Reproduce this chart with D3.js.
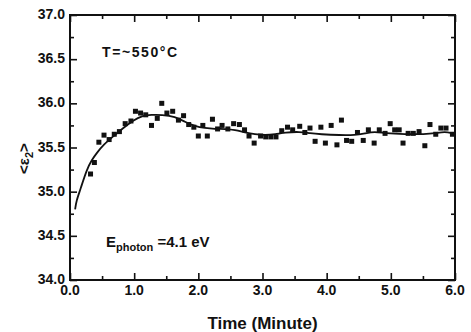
<!DOCTYPE html>
<html>
<head>
<meta charset="utf-8">
<script src="https://cdn.jsdelivr.net/npm/d3@7"></script>
<style>
  body { margin: 0; background: #fff; }
  text { font-family: "Liberation Sans", Arial, sans-serif; font-weight: bold; fill: #111; }
</style>
</head>
<body>
<div id="chart"></div>
<script>
/* <e2> vs time at ~550 C, measured points plus fitted curve */

// measured points: time (minute) and <e2>
const pointTime = [0.32, 0.38, 0.45, 0.53, 0.61, 0.69, 0.77, 0.86, 0.95, 1.02,
    1.10, 1.18, 1.27, 1.36, 1.43, 1.51, 1.60, 1.69, 1.77, 1.85,
    1.93, 2.00, 2.07, 2.14, 2.22, 2.30, 2.37, 2.46, 2.55, 2.64,
    2.72, 2.79, 2.87, 2.97, 3.05, 3.13, 3.21, 3.30, 3.39, 3.47,
    3.58, 3.66, 3.74, 3.82, 3.91, 3.98, 4.07, 4.16, 4.23, 4.31,
    4.39, 4.48, 4.57, 4.65, 4.74, 4.82, 4.91, 4.99, 5.06, 5.13,
    5.19, 5.27, 5.35, 5.44, 5.53, 5.61, 5.70, 5.78, 5.86, 5.96];
const pointEps = [35.20, 35.33, 35.56, 35.64, 35.59, 35.65, 35.68, 35.77, 35.80, 35.91,
    35.89, 35.87, 35.75, 35.83, 36.00, 35.89, 35.91, 35.81, 35.86, 35.76,
    35.73, 35.63, 35.75, 35.63, 35.82, 35.71, 35.75, 35.71, 35.77, 35.76,
    35.70, 35.63, 35.55, 35.63, 35.62, 35.62, 35.62, 35.69, 35.73, 35.70,
    35.74, 35.67, 35.72, 35.57, 35.73, 35.55, 35.75, 35.53, 35.81, 35.58,
    35.57, 35.67, 35.58, 35.70, 35.55, 35.70, 35.66, 35.77, 35.70, 35.70,
    35.55, 35.66, 35.66, 35.68, 35.52, 35.76, 35.65, 35.72, 35.72, 35.65];

// fitted curve
const fitTime = [0.08, 0.10, 0.16, 0.26, 0.34, 0.42, 0.52, 0.68, 0.83, 0.99,
    1.12, 1.27, 1.43, 1.64, 1.79, 1.95, 2.10, 2.26, 2.42, 2.57,
    2.73, 2.88, 3.04, 3.20, 3.35, 3.58, 3.74, 3.90, 4.21, 4.44,
    4.60, 4.75, 4.91, 5.22, 5.53, 5.69, 5.84, 5.97];
const fitEps = [34.80, 34.90, 35.02, 35.25, 35.36, 35.44, 35.53, 35.63, 35.72, 35.81,
    35.86, 35.87, 35.87, 35.85, 35.79, 35.74, 35.72, 35.71, 35.71, 35.70,
    35.67, 35.65, 35.64, 35.65, 35.67, 35.68, 35.66, 35.65, 35.64, 35.64,
    35.66, 35.68, 35.66, 35.65, 35.65, 35.66, 35.68, 35.66];

const xMajor = [0, 1, 2, 3, 4, 5, 6],
      xMinor = [0.5, 1.5, 2.5, 3.5, 4.5, 5.5],
      yMajor = [34.0, 34.5, 35.0, 35.5, 36.0, 36.5, 37.0],
      yMinor = [34.25, 34.75, 35.25, 35.75, 36.25, 36.75];

const width = 471, height = 332,
      margin = { top: 15, right: 16, bottom: 52, left: 70 };

const svg = d3.select("#chart").append("svg")
    .attr("width", width)
    .attr("height", height);

const x = d3.scaleLinear().domain([0, 6]).range([margin.left, width - margin.right]);
const y = d3.scaleLinear().domain([34, 37]).range([height - margin.bottom, margin.top]);

const fmt = d3.format(".1f");

// inward ticks on all four sides
function ticks(g, axis, vals, size) {
    g.call(axis.tickValues(vals).tickSizeInner(size).tickSizeOuter(0).tickFormat(""))
     .call(a => a.select(".domain").remove())
     .selectAll("line").attr("stroke", "#111").attr("stroke-width", 1.6);
}
const bottomY = y.range()[0], topY = y.range()[1];
const leftX = x.range()[0], rightX = x.range()[1];

svg.append("g").attr("transform", `translate(0,${bottomY})`).call(ticks, d3.axisTop(x), xMajor, 7);
svg.append("g").attr("transform", `translate(0,${bottomY})`).call(ticks, d3.axisTop(x), xMinor, 4);
svg.append("g").attr("transform", `translate(0,${topY})`).call(ticks, d3.axisBottom(x), xMajor, 7);
svg.append("g").attr("transform", `translate(0,${topY})`).call(ticks, d3.axisBottom(x), xMinor, 4);
svg.append("g").attr("transform", `translate(${leftX},0)`).call(ticks, d3.axisRight(y), yMajor, 7);
svg.append("g").attr("transform", `translate(${leftX},0)`).call(ticks, d3.axisRight(y), yMinor, 4);
svg.append("g").attr("transform", `translate(${rightX},0)`).call(ticks, d3.axisLeft(y), yMajor, 7);
svg.append("g").attr("transform", `translate(${rightX},0)`).call(ticks, d3.axisLeft(y), yMinor, 4);

// frame
svg.append("rect")
    .attr("x", leftX).attr("y", topY)
    .attr("width", rightX - leftX).attr("height", bottomY - topY)
    .attr("fill", "none").attr("stroke", "#111").attr("stroke-width", 2);

// tick labels
svg.append("g").selectAll("text")
    .data(xMajor).join("text")
    .attr("x", d => x(d)).attr("y", bottomY + 15)
    .attr("text-anchor", "middle")
    .style("font-size", "14px")
    .text(d => fmt(d));

svg.append("g").selectAll("text")
    .data(yMajor).join("text")
    .attr("x", leftX - 5).attr("y", d => y(d) + 4)
    .attr("text-anchor", "end")
    .style("font-size", "14px")
    .text(d => fmt(d));

// axis titles
svg.append("text")
    .attr("x", (leftX + rightX) / 2).attr("y", height - 3)
    .attr("text-anchor", "middle")
    .style("font-size", "17px")
    .text("Time (Minute)");

const yl = svg.append("text")
    .attr("transform", `translate(29,${(y(35.5) + y(35.25)) / 2}) rotate(-90)`)
    .attr("text-anchor", "middle")
    .style("font-size", "15px");
yl.append("tspan").text("<\u03b5");
yl.append("tspan").attr("dy", 4).style("font-size", "11px").text("2");
yl.append("tspan").attr("dy", -4).text(">");

// annotations
svg.append("text")
    .attr("x", 102).attr("y", 57)
    .style("font-size", "14px")
    .style("letter-spacing", "1.6px")
    .text("T=~550\u00b0C");

const ann = svg.append("text")
    .attr("x", 106).attr("y", 247)
    .style("font-size", "15px");
ann.append("tspan").text("E");
ann.append("tspan").attr("dy", 4).style("font-size", "11px").text("photon");
ann.append("tspan").attr("dy", -4).text(" =4.1 eV");

// fitted curve
const fit = fitTime.map((t, i) => ({ t: t, v: fitEps[i] }));
svg.append("path")
    .datum(fit)
    .attr("fill", "none")
    .attr("stroke", "#111")
    .attr("stroke-width", 1.8)
    .attr("d", d3.line().x(d => x(d.t)).y(d => y(d.v)).curve(d3.curveBasis));

// measured points
const pts = pointTime.map((t, i) => ({ t: t, v: pointEps[i] }));
const s = 5;
svg.append("g").selectAll("rect")
    .data(pts).join("rect")
    .attr("x", d => x(d.t) - s / 2)
    .attr("y", d => y(d.v) - s / 2)
    .attr("width", s).attr("height", s)
    .attr("fill", "#111");
</script>
</body>
</html>
